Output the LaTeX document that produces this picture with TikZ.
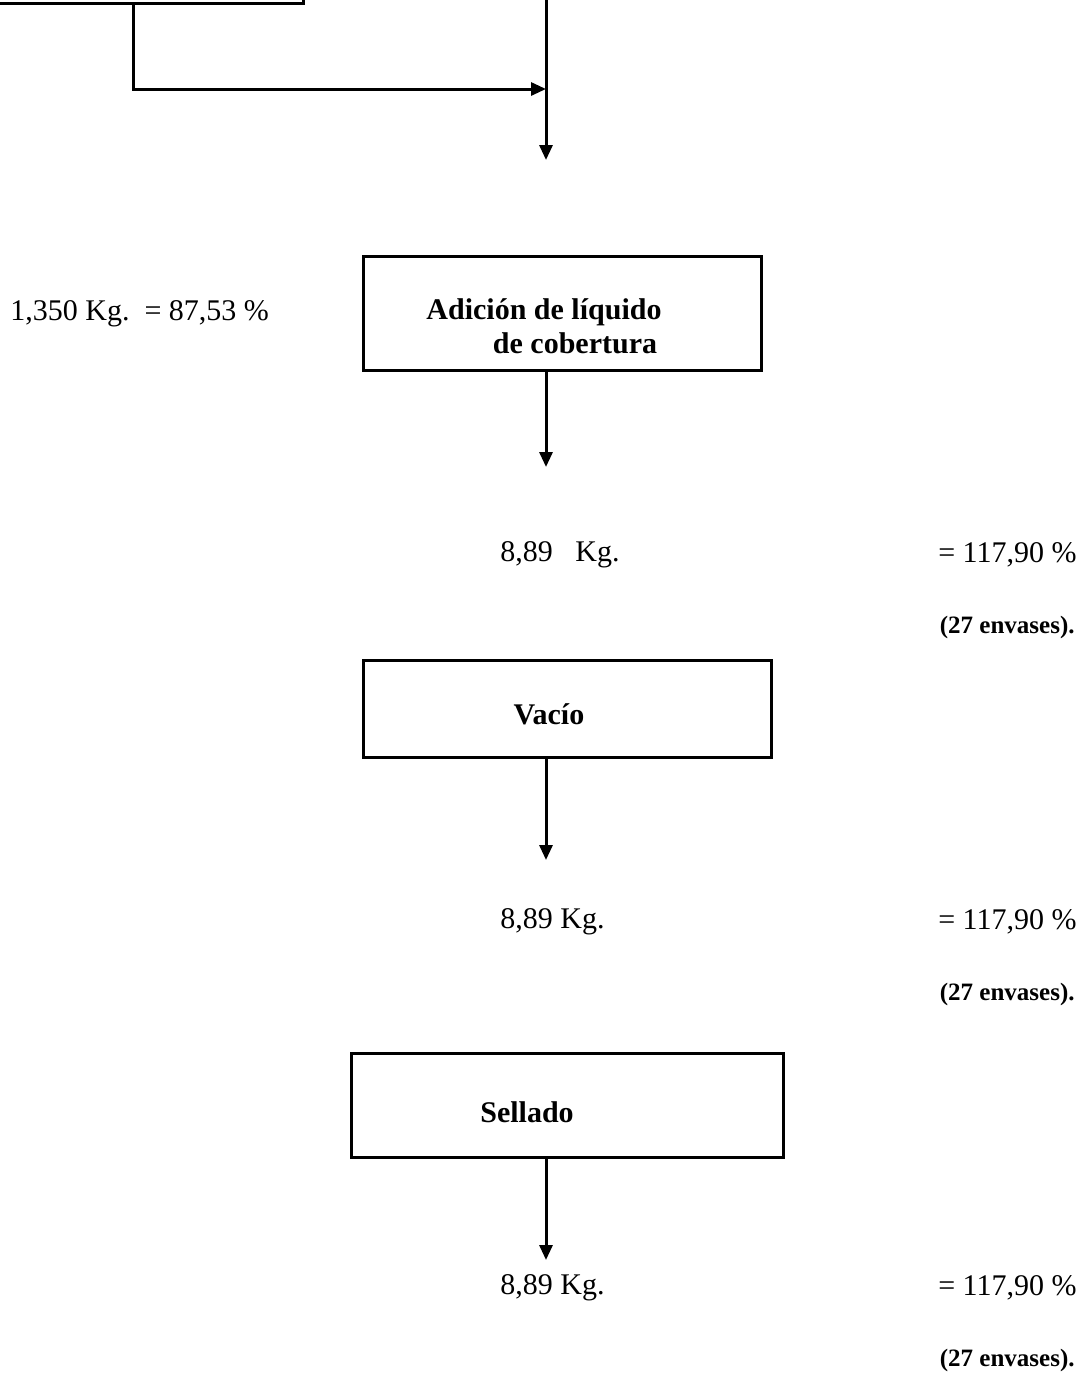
\documentclass[tikz,border=0pt]{standalone}
\usepackage{fontspec}
\setmainfont{Liberation Serif}
\usetikzlibrary{arrows.meta,positioning}
\tikzset{
  paso/.style={draw,line width=1.5pt,rectangle,inner sep=0pt,align=center,
    font=\bfseries\fontsize{15}{17}\selectfont},
  dato/.style={inner sep=0pt,font=\fontsize{15}{17}\selectfont},
  nota/.style={inner sep=0pt,anchor=east,font=\bfseries\fontsize{12.5}{14}\selectfont},
  flujo/.style={line width=1.5pt,-{Triangle[length=7.5pt,width=6.5pt]}}
}

\begin{document}
\begin{tikzpicture}[x=0.5pt,y=-0.5pt]
    \useasboundingbox (0,0) rectangle (1090,1373);
    \clip (0,0) rectangle (1090,1373);

    % box above, cut by the page
    \node[paso,minimum width=162pt,minimum height=40pt,anchor=south east] (previo) at (305,5) {};
    \coordinate (arriba) at (546,-5);
    \coordinate (codo) at (133,89);
    \coordinate (f0) at (546,160);
    \draw[flujo] (previo.south -| codo) -- (codo) -- (codo -| arriba);
    \draw[flujo] (arriba) -- (f0);

    % adicion
    \node[dato,anchor=west] (perdida) at (10,314) {1,350 Kg.\ \ = 87,53 \%};
    \node[paso,minimum width=199pt,minimum height=57pt] (adicion) at (562,313)
        {\rule{0pt}{24pt}Adición de líquido\hspace*{18pt}\\\hspace*{13pt}de cobertura};
    \coordinate (f1) at (546,467);
    \draw[flujo] (adicion.south -| f1) -- (f1);

    \node[dato,anchor=west] (peso1) at (500,555) {8,89\ \ \ Kg.};
    \node[dato,anchor=east] (pct1) at (1077,555) {= 117,90 \%};
    \node[nota] (env1) at (1075,627) {(27 envases).};

    % vacio
    \node[paso,minimum width=204pt,minimum height=48.5pt] (vacio) at (567,708.5)
        {\rule{0pt}{16pt}Vacío\hspace*{18pt}};
    \coordinate (f2) at (546,860);
    \draw[flujo] (vacio.south -| f2) -- (f2);

    \node[dato,anchor=west] (peso2) at (500,922) {8,89 Kg.};
    \node[dato,anchor=east] (pct2) at (1077,922) {= 117,90 \%};
    \node[nota] (env2) at (1075,994) {(27 envases).};

    % sellado
    \node[paso,minimum width=216pt,minimum height=52pt] (sellado) at (567,1105)
        {\rule{0pt}{18pt}Sellado\hspace*{40pt}};
    \coordinate (f3) at (546,1260);
    \draw[flujo] (sellado.south -| f3) -- (f3);

    \node[dato,anchor=west] (peso3) at (500,1288) {8,89 Kg.};
    \node[dato,anchor=east] (pct3) at (1077,1288) {= 117,90 \%};
    \node[nota] (env3) at (1075,1360) {(27 envases).};
\end{tikzpicture}
\end{document}
